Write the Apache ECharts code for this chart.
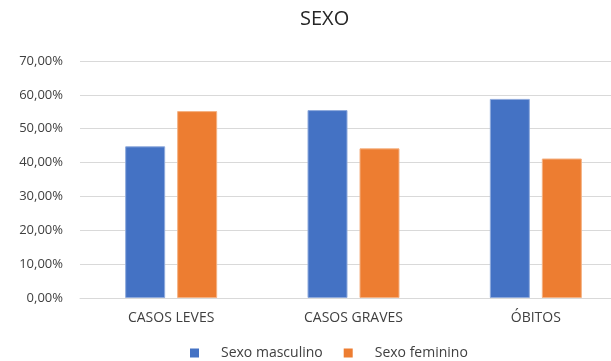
<!DOCTYPE html>
<html><head><meta charset="utf-8">
<script src="https://cdn.jsdelivr.net/npm/echarts@6/dist/echarts.min.js"></script>
<style>html,body{margin:0;padding:0;background:#fff}#c{width:611px;height:361px}</style>
</head><body><div id="c"></div>
<script>
const categories = ['CASOS LEVES', 'CASOS GRAVES', 'ÓBITOS'];
const masculino = [44.8, 55.5, 58.8];
const feminino = [55.2, 44.2, 41.2];
const seriesNames = ['Sexo masculino', 'Sexo feminino'];
const yTicks = { min: 0, max: 70, interval: 10 };
const font = '"Open Sans", sans-serif';
const chart = echarts.init(document.getElementById('c'));
chart.setOption({
  animation: false,
  backgroundColor: '#fff',
  title: { text: 'SEXO', left: 300, top: 9, padding: 0,
    textStyle: { fontFamily: font, fontSize: 20, fontWeight: 'normal', color: '#262626' } },
  legend: { data: seriesNames, top: 346, left: 190, padding: 0, itemWidth: 9, itemHeight: 9, itemGap: 21, icon: 'rect',
    itemStyle: { borderWidth: 0 },
    textStyle: { fontFamily: font, fontSize: 14, color: '#404040', padding: [0,0,0,17] } },
  grid: { left: 80, width: 547, top: 61, bottom: 63, containLabel: false, outerBoundsMode: 'none' },
  xAxis: { type: 'category', data: categories,
    axisLine: { lineStyle: { color: '#d9d9d9' } }, axisTick: { show: false },
    axisLabel: { fontFamily: font, fontSize: 14, color: '#404040', margin: 13 } },
  yAxis: { type: 'value', min: yTicks.min, max: yTicks.max, interval: yTicks.interval,
    axisLine: { show: false }, axisTick: { show: false },
    splitLine: { lineStyle: { color: '#d9d9d9' } },
    axisLabel: { fontFamily: font, fontSize: 13, color: '#404040', margin: 17,
      formatter: v => v.toFixed(2).replace('.', ',') + '%' } },
  series: [
    { name: seriesNames[0], type: 'bar', data: masculino, barWidth: 40, barGap: '30%',
      itemStyle: { color: '#4472C4', borderColor: '#8faadc', borderWidth: 1 } },
    { name: seriesNames[1], type: 'bar', data: feminino, barWidth: 40,
      itemStyle: { color: '#ED7D31', borderColor: '#f4b183', borderWidth: 1 } }
  ]
});
</script></body></html>
